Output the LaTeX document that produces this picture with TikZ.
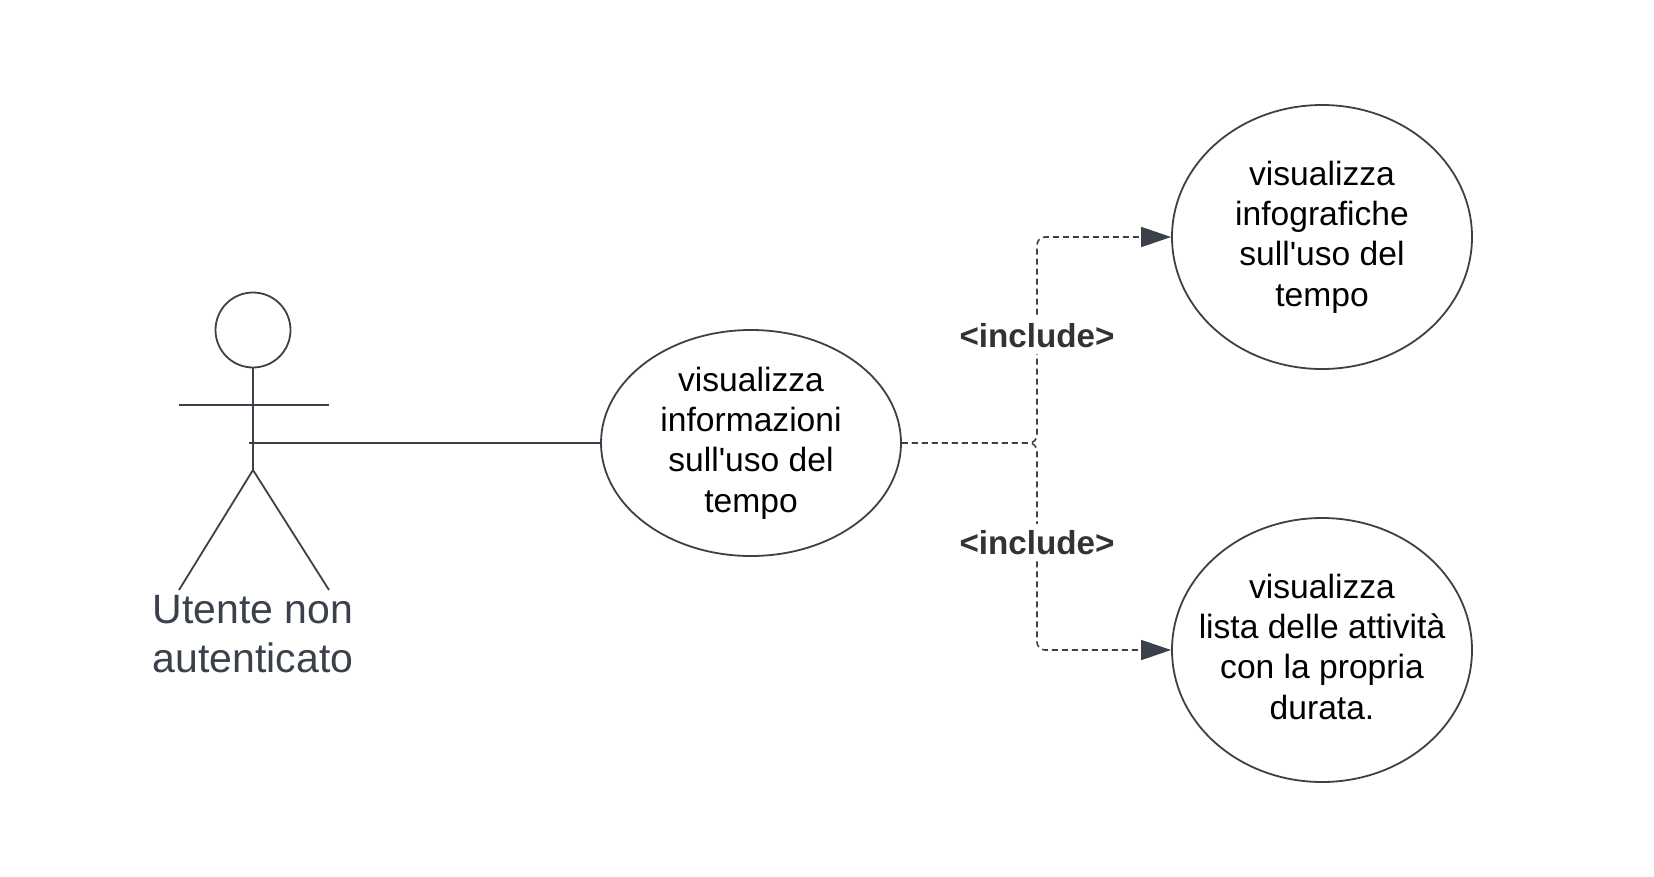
\documentclass[tikz,border=0pt]{standalone}
\usepackage{fontspec}
\setmainfont{Liberation Sans}
\usetikzlibrary{shapes.geometric, arrows.meta, positioning}
\definecolor{umlline}{HTML}{3A414A}
\definecolor{incgray}{HTML}{333333}

\begin{document}
\begin{tikzpicture}[
    x=1pt, y=-1pt,
    usecase/.style = {ellipse, draw=umlline, line width=1.8pt, minimum width=300pt, minimum height=226pt, inner xsep=-40pt, inner ysep=-40pt, align=center, font=\fontsize{33.6}{40.4}\selectfont},
    actorline/.style = {draw=umlline, line width=1.8pt},
    include/.style = {draw=umlline, line width=1.6pt, dash pattern=on 6pt off 4pt, rounded corners=8pt, -{Triangle[length=30pt, width=20pt]}},
    inclabel/.style = {fill=white, text=incgray, inner xsep=2pt, inner ysep=6pt, font=\fontsize{33.2}{40}\selectfont\bfseries}
]

\useasboundingbox (0,0) rectangle (1654,876);

% attore
\node [circle, actorline, minimum size=75pt, inner sep=0pt] (hd) at (253, 330) {};
\coordinate (hip) at (253, 470);
\coordinate (actor) at (249, 443);
\draw [actorline] (hd.south) -- (hip);
\draw [actorline] (179, 405) -- (329, 405);
\draw [actorline] (hip) -- (179, 590);
\draw [actorline] (hip) -- (329, 590);
\node [anchor=north, inner sep=0pt, align=center, text=umlline, font=\fontsize{41}{49}\selectfont] (lbl) at (253, 595) {Utente non\\autenticato};

% casi d'uso
\node [usecase] (vis) at (751, 443) {visualizza\\informazioni\\sull\textquotesingle uso del\\tempo};
\node [usecase, minimum height=264pt] (inf) at (1322, 237) {visualizza\\infografiche\\sull\textquotesingle uso del\\tempo};
\node [usecase, minimum height=264pt] (lst) at (1322, 650) {visualizza\\lista delle attività\\con la propria\\durata.\vphantom{p}};

\coordinate (fork) at (1037, 443);

\draw [actorline] (actor) -- (vis.west);

\draw [include] (vis.east) -- (fork) |- node[inclabel, pos=0.26] (inc1) {<include>} (inf.west);
\draw [include] (vis.east) -- (fork) |- node[inclabel, pos=0.24] (inc2) {<include>} (lst.west);

\end{tikzpicture}
\end{document}
